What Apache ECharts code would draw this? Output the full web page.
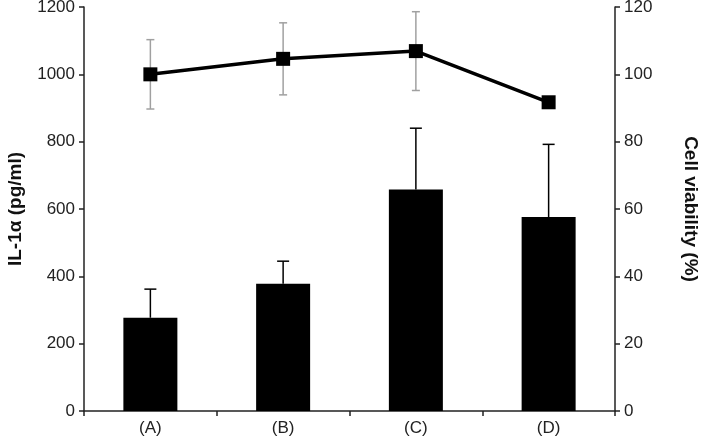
<!DOCTYPE html>
<html>
<head>
<meta charset="UTF-8">
<title></title>
<script src="https://cdn.jsdelivr.net/npm/echarts@6/dist/echarts.min.js"></script>
</head>
<body style="margin:0">
<div id="main" style="width:709px;height:444px"></div>
<script>
var categories = ['(A)', '(B)', '(C)', '(D)'];
// IL-1a bars, with upper error
var il1a = [277, 378, 658, 576];
var il1aErr = [85, 67, 182, 216];
// cell viability line, with +/- error
var viability = [100, 104.6, 106.9, 91.7];
var viabilityErr = [10.3, 10.7, 11.7, 1.5];

var chart = echarts.init(document.getElementById('main'));

var barErrData = il1a.map(function (v, i) { return [i, v, v + il1aErr[i]]; });
var lineErrData = viability.map(function (v, i) { return [i, v - viabilityErr[i], v + viabilityErr[i]]; });

function errItem(color, cap, both) {
    return function (params, api) {
        var lo = api.coord([api.value(0), api.value(1)]);
        var hi = api.coord([api.value(0), api.value(2)]);
        var style = { stroke: color, lineWidth: 1.5 };
        var kids = [
            { type: 'line', shape: { x1: lo[0], y1: lo[1], x2: hi[0], y2: hi[1] }, style: style },
            { type: 'line', shape: { x1: hi[0] - cap, y1: hi[1], x2: hi[0] + cap, y2: hi[1] }, style: style }
        ];
        if (both) {
            kids.push({ type: 'line', shape: { x1: lo[0] - cap, y1: lo[1], x2: lo[0] + cap, y2: lo[1] }, style: style });
        }
        return { type: 'group', children: kids };
    };
}

function plain(v) { return String(v); }

var axisLine = { show: true, lineStyle: { color: '#222', width: 1.5 } };
var axisTick = { show: true, length: 5, lineStyle: { color: '#222', width: 1.5 } };
var labelFont = { color: '#222', fontSize: 17, fontFamily: 'Liberation Sans' };
var nameFont = { color: '#111', fontSize: 19, fontWeight: 'bold', fontFamily: 'Liberation Sans' };

var option = {
    animation: false,
    grid: { left: 84, right: 94, top: 7, bottom: 33, outerBoundsMode: 'none' },
    xAxis: {
        type: 'category',
        data: categories,
        axisLine: axisLine,
        axisTick: axisTick,
        axisLabel: Object.assign({ margin: 9 }, labelFont)
    },
    yAxis: [{
        type: 'value',
        min: 0, max: 1200, interval: 200,
        name: 'IL-1α (pg/ml)',
        nameLocation: 'middle',
        nameGap: 59,
        nameTextStyle: nameFont,
        axisLine: axisLine,
        axisTick: axisTick,
        axisLabel: Object.assign({ margin: 9, formatter: plain }, labelFont),
        splitLine: { show: false }
    }, {
        type: 'value',
        min: 0, max: 120, interval: 20,
        name: 'Cell viability (%)',
        nameLocation: 'middle',
        nameRotate: -90,
        nameGap: 66,
        nameTextStyle: nameFont,
        axisLine: axisLine,
        axisTick: axisTick,
        axisLabel: Object.assign({ margin: 9, formatter: plain }, labelFont),
        splitLine: { show: false }
    }],
    series: [{
        type: 'bar',
        data: il1a,
        barWidth: 54,
        itemStyle: { color: '#000' },
        z: 2
    }, {
        type: 'custom',
        data: barErrData,
        renderItem: errItem('#000', 6, false),
        z: 3
    }, {
        type: 'custom',
        yAxisIndex: 1,
        data: lineErrData,
        renderItem: errItem('#a0a0a0', 4, true),
        z: 4
    }, {
        type: 'line',
        yAxisIndex: 1,
        data: viability,
        symbol: 'rect',
        symbolSize: 14,
        lineStyle: { color: '#000', width: 3.5 },
        itemStyle: { color: '#000' },
        z: 5
    }]
};

chart.setOption(option);
</script>
</body>
</html>
